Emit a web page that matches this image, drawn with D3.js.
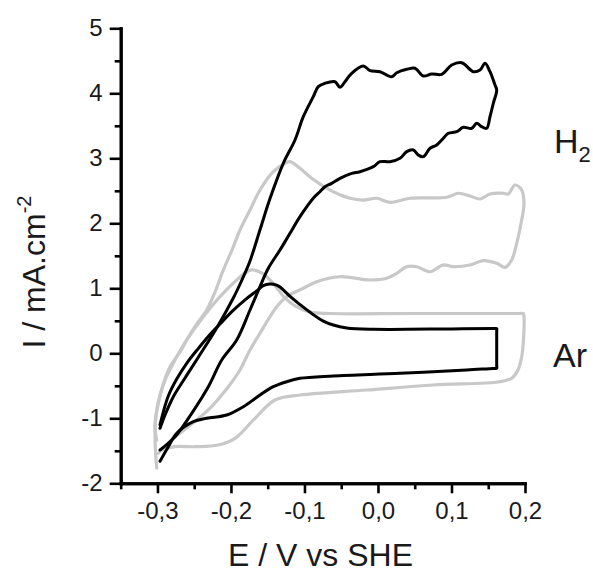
<!DOCTYPE html>
<html><head><meta charset="utf-8">
<script src="https://cdn.jsdelivr.net/npm/d3@7"></script>
<style>
html,body{margin:0;padding:0;background:#fff;}
svg{display:block;}
text{font-family:"Liberation Sans",Arial,sans-serif;fill:#1a1a1a;}
</style></head>
<body>
<svg id="chart" width="593" height="574"></svg>
<script>
// ---- data (E / V vs SHE, I / mA.cm-2) ----
const xMajorTicks = [-0.3, -0.2, -0.1, 0.0, 0.1, 0.2];
const xMinorTicks = [-0.35, -0.25, -0.15, -0.05, 0.05, 0.15];
const yMajorTicks = [-2, -1, 0, 1, 2, 3, 4, 5];
const yMinorTicks = [-1.5, -0.5, 0.5, 1.5, 2.5, 3.5, 4.5];
const xTitle = "E / V vs SHE";
const yTitle = "I / mA.cm";
const yTitleSup = "-2";
const seriesLabels = ["H", "Ar"];

// grey loop, H2 (lower set)
const h2Grey = [
[-0.301,-1.334],[-0.3033,-1.129],[-0.2993,-0.795],[-0.2925,-0.488],[-0.2829,-0.206],[-0.2693,0.02],
[-0.2602,0.205],[-0.2476,0.435],[-0.233,0.666],[-0.2217,0.943],[-0.2104,1.282],[-0.1986,1.589],
[-0.1877,1.897],[-0.1741,2.205],[-0.1605,2.512],[-0.1424,2.794],[-0.1265,2.923],[-0.1197,2.948],
[-0.1061,2.846],[-0.0902,2.692],[-0.0766,2.589],[-0.0562,2.462],[-0.0381,2.385],[-0.02,2.358],
[-0.0018,2.385],[0.0163,2.323],[0.0436,2.385],[0.0935,2.4],[0.1093,2.462],[0.1252,2.42],
[0.1388,2.374],[0.1524,2.451],[0.1705,2.462],[0.1773,2.451],[0.1864,2.589],[0.1955,2.512],
[0.1986,2.308],[0.1955,2.051],[0.1887,1.692],[0.1819,1.435],[0.1728,1.323],[0.1615,1.385],
[0.1433,1.425],[0.1252,1.358],[0.1025,1.332],[0.0889,1.358],[0.0708,1.255],[0.0527,1.332],
[0.0391,1.332],[0.0255,1.231],[0.0119,1.154],[-0.0109,1.128],[-0.0517,1.178],[-0.0834,1.102],
[-0.1016,1.0],[-0.1242,0.871],[-0.1378,0.717],[-0.1469,0.563],[-0.1605,0.308],[-0.1741,0.051],
[-0.1809,-0.103],[-0.1877,-0.257],[-0.2036,-0.514],[-0.2308,-0.872],[-0.258,-1.129],
[-0.2807,-1.334],[-0.2989,-1.538]
];
// grey loop, Ar
const arGrey = [
[-0.301,-1.765],[-0.3033,-1.334],[-0.302,-0.949],[-0.2965,-0.642],[-0.2884,-0.38],[-0.2761,-0.103],
[-0.2602,0.205],[-0.2376,0.563],[-0.2149,0.871],[-0.1922,1.128],[-0.1768,1.266],[-0.1696,1.282],
[-0.1578,1.235],[-0.1442,1.097],[-0.1265,0.851],[-0.1129,0.728],[-0.0925,0.635],[-0.0653,0.612],
[0.05,0.612],[0.192,0.612],[0.1977,0.612],[0.1986,0.57],[0.1986,0.358],[0.1959,-0.026],[0.1905,-0.257],
[0.1823,-0.38],[0.166,-0.437],[0.0752,-0.488],[-0.0154,-0.565],[-0.1061,-0.642],[-0.1401,-0.718],
[-0.1673,-1.0],[-0.1945,-1.308],[-0.2172,-1.411],[-0.2489,-1.437],[-0.2761,-1.437],[-0.2942,-1.488]
];
// black loop, H2
const h2Black = [
[-0.2965,-1.154],[-0.2897,-0.949],[-0.2784,-0.668],[-0.2625,-0.38],[-0.2444,-0.06],[-0.2194,0.39],
[-0.1968,0.85],[-0.1854,1.12],[-0.1741,1.42],[-0.1605,1.90],[-0.1469,2.38],[-0.1288,2.923],
[-0.1129,3.282],[-0.1016,3.64],[-0.088,3.948],[-0.0812,4.102],[-0.0721,4.154],[-0.0585,4.178],
[-0.0517,4.092],[-0.0449,4.178],[-0.0358,4.308],[-0.02,4.42],[-0.0109,4.348],[0.0027,4.332],
[0.0187,4.255],[0.0255,4.317],[0.0391,4.369],[0.0504,4.385],[0.0616,4.266],[0.0731,4.297],
[0.0867,4.292],[0.1003,4.435],[0.1139,4.471],[0.1297,4.332],[0.1388,4.358],[0.1456,4.462],
[0.1524,4.332],[0.1592,4.128],[0.1615,4.051],[0.1569,3.846],[0.1524,3.64],[0.1479,3.462],
[0.1411,3.486],[0.1343,3.538],[0.1275,3.462],[0.1161,3.477],[0.1071,3.409],[0.0957,3.385],
[0.0889,3.308],[0.0799,3.205],[0.0708,3.154],[0.0616,3.025],[0.0548,3.051],[0.048,3.128],
[0.0391,3.102],[0.03,3.0],[0.0163,2.948],[0.0027,2.948],[-0.0064,2.871],[-0.0245,2.794],
[-0.0358,2.769],[-0.0517,2.692],[-0.063,2.615],[-0.0721,2.563],[-0.0789,2.486],[-0.088,2.385],
[-0.1061,2.102],[-0.1197,1.846],[-0.1333,1.589],[-0.1492,1.308],[-0.1605,1.025],[-0.1741,0.666],
[-0.1922,0.205],[-0.2126,-0.103],[-0.2308,-0.514],[-0.2534,-0.923],[-0.2761,-1.283],[-0.2965,-1.488]
];
// black loop, Ar
const arBlack = [
[-0.2965,-1.10],[-0.2920,-0.90],[-0.2850,-0.65],[-0.2740,-0.40],[-0.2600,-0.15],[-0.2440,0.08],
[-0.2300,0.27],[-0.2150,0.45],[-0.1970,0.66],[-0.1800,0.83],[-0.1650,0.96],[-0.1560,1.04],
[-0.1470,1.065],[-0.1380,1.05],[-0.1333,1.02],[-0.1200,0.88],[-0.1061,0.75],[-0.0900,0.61],
[-0.0750,0.50],[-0.0608,0.435],[-0.0426,0.39],[-0.0064,0.37],[0.1000,0.375],[0.158,0.38],[0.1615,0.38],
[0.1615,0.34],[0.1615,-0.19],[0.1615,-0.231],[0.157,-0.232],[0.1207,-0.257],[0.0300,-0.308],
[-0.0608,-0.349],[-0.1061,-0.385],[-0.1242,-0.437],[-0.1424,-0.514],[-0.1605,-0.642],[-0.1832,-0.822],
[-0.2058,-0.949],[-0.2330,-1.0],[-0.2512,-1.052],[-0.2738,-1.231],[-0.2852,-1.437],[-0.2965,-1.66]
];

// ---- drawing ----
const svg = d3.select("#chart");
const x = d3.scaleLinear().domain([-0.35, 0.2]).range([120.7, 525]);
const y = d3.scaleLinear().domain([-2, 5]).range([483.3, 28.3]);
const loc = d3.formatLocale({decimal: ",", thousands: ".", grouping: [3], currency: ["", ""], minus: "-"});
const fx = loc.format(".1f"), fy = loc.format("d");

const line = d3.line().x(d => x(d[0])).y(d => y(d[1])).curve(d3.curveCatmullRom.alpha(0.5));

const grey = "#c8c8c8";
[h2Grey, arGrey].forEach(s => svg.append("path").attr("d", line(s))
  .attr("fill", "none").attr("stroke", grey).attr("stroke-width", 3.2)
  .attr("stroke-linejoin", "round").attr("stroke-linecap", "round"));
[h2Black, arBlack].forEach(s => svg.append("path").attr("d", line(s))
  .attr("fill", "none").attr("stroke", "#000").attr("stroke-width", 3)
  .attr("stroke-linejoin", "round").attr("stroke-linecap", "round"));

function styleAxis(g) {
  g.select(".domain").attr("stroke", "#000").attr("stroke-width", 3).attr("stroke-linecap", "square");
  g.selectAll(".tick line").attr("stroke", "#000").attr("stroke-width", 2.6);
  g.selectAll("text").attr("font-size", 24).attr("fill", "#1a1a1a")
    .attr("font-family", "'Liberation Sans', Arial, sans-serif");
}
// minor ticks
svg.append("g").attr("transform", `translate(0,${y.range()[0]})`)
  .call(d3.axisBottom(x).tickValues(xMinorTicks).tickSize(6).tickSizeOuter(0).tickFormat(""))
  .call(styleAxis);
svg.append("g").attr("transform", `translate(${x.range()[0]},0)`)
  .call(d3.axisLeft(y).tickValues(yMinorTicks).tickSize(6).tickSizeOuter(0).tickFormat(""))
  .call(styleAxis);
// major ticks
svg.append("g").attr("transform", `translate(0,${y.range()[0]})`)
  .call(d3.axisBottom(x).tickValues(xMajorTicks).tickSize(10).tickPadding(9).tickSizeOuter(0).tickFormat(fx))
  .call(styleAxis);
svg.append("g").attr("transform", `translate(${x.range()[0]},0)`)
  .call(d3.axisLeft(y).tickValues(yMajorTicks).tickSize(11).tickPadding(7).tickSizeOuter(0).tickFormat(fy))
  .call(styleAxis);

// axis titles
svg.append("text").attr("x", 320.5).attr("y", 566).attr("text-anchor", "middle")
  .attr("font-size", 32).text(xTitle);
const yt = svg.append("text").attr("transform", "translate(45,272) rotate(-90)")
  .attr("text-anchor", "middle").attr("font-size", 32);
yt.append("tspan").text(yTitle);
yt.append("tspan").attr("font-size", 20).attr("dy", -14).text(yTitleSup);

// series labels
const h = svg.append("text").attr("x", 554).attr("y", 153).attr("font-size", 34);
h.append("tspan").text(seriesLabels[0]);
h.append("tspan").attr("font-size", 22).attr("dy", 9).text("2");
svg.append("text").attr("x", 553).attr("y", 367).attr("font-size", 34).text(seriesLabels[1]);
</script>
</body></html>
